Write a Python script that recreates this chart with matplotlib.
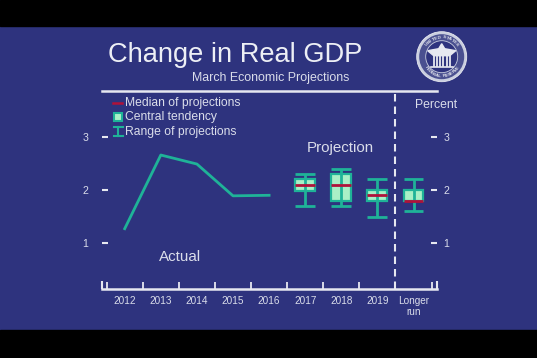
import numpy as np
import matplotlib
matplotlib.use("Agg")
import matplotlib.pyplot as plt
from matplotlib.patches import Rectangle, Circle

plt.rcParams['font.family'] = ['Liberation Sans', 'DejaVu Sans']

# Actual data
actual_x = [0, 1, 2, 3, 4]
actual_y = [1.27, 2.66, 2.49, 1.89, 1.90]

# Projections
proj_x = [5, 6, 7, 8]
range_low = [1.70, 1.70, 1.50, 1.60]
range_high = [2.30, 2.40, 2.20, 2.20]
central_low = [1.99, 1.80, 1.80, 1.80]
central_high = [2.20, 2.30, 2.00, 2.00]
medians = [2.10, 2.10, 1.90, 1.80]

categories = ['2012', '2013', '2014', '2015', '2016', '2017', '2018', '2019', 'Longer\nrun']
y_ticks = [1, 2, 3]

BLUE = '#2E337E'
TEAL = '#1FB398'
LIGHT = '#A9F0C6'
RED = '#B0123A'
WHITE = '#E6E8F0'
TEXT = '#DADDEA'

W, H = 537, 358
fig = plt.figure(figsize=(W / 100, H / 100), dpi=100, facecolor=BLUE)

# overlay in pixel coordinates for the slide furniture
bg = fig.add_axes([0, 0, 1, 1], zorder=0)
bg.set_xlim(0, W)
bg.set_ylim(H, 0)
bg.axis('off')
bg.add_patch(Rectangle((0, 0), W, 26, color='black'))
bg.add_patch(Rectangle((0, 330), W, 28, color='black'))

bg.text(108, 62, 'Change in Real GDP', fontsize=19.6, color='#EDEFF5', va='baseline')
bg.text(192, 81, 'March Economic Projections', fontsize=8.9, color=TEXT, va='baseline')
bg.text(415, 108, 'Percent', fontsize=8.8, color=TEXT, va='baseline')

# legend
bg.plot([113, 122], [102.7, 102.7], color=RED, lw=1.8)
bg.add_patch(Rectangle((114, 113), 8, 8, fc=LIGHT, ec=TEAL, lw=1.5))
bg.plot([118, 118], [127, 136], color=TEAL, lw=1.5)
bg.plot([113.5, 122.5], [127, 127], color=TEAL, lw=1.5)
bg.plot([113.5, 122.5], [136, 136], color=TEAL, lw=1.5)
for y, label in zip([102.7, 117, 131.5], ['Median of projections', 'Central tendency', 'Range of projections']):
    bg.text(125, y, label, fontsize=8.7, color=TEXT, va='center')

# seal
cx, cy = 441.7, 56.7
bg.add_patch(Circle((cx, cy), 25, fc='#C9CEDF', ec='#E6E8F0', lw=0.6))
bg.add_patch(Circle((cx, cy), 22.5, fc='#4A5090', ec='none'))
bg.add_patch(Circle((cx, cy), 16, fc='#2E337E', ec='#C9CEDF', lw=0.6))
for i, ch in enumerate('UNITED STATES'):
    a = np.radians(140 - i * 100 / 12)
    bg.text(cx + 19.3 * np.cos(a), cy - 19.3 * np.sin(a), ch, fontsize=3.2, color='#E6E8F0',
            rotation=np.degrees(a) - 90, ha='center', va='center', fontweight='bold')
for i, ch in enumerate('FEDERAL RESERVE'):
    a = np.radians(215 + i * 110 / 14)
    bg.text(cx + 19.3 * np.cos(a), cy - 19.3 * np.sin(a), ch, fontsize=3.2, color='#E6E8F0',
            rotation=np.degrees(a) + 90, ha='center', va='center', fontweight='bold')
bg.fill([cx - 14, cx - 3, cx, cx + 3, cx + 14, cx + 8, cx - 8], [cy - 6, cy - 8, cy - 13, cy - 8, cy - 6, cy - 1, cy - 1],
        color='#E6E8F0')
for dx in np.arange(-8, 9, 3.2):
    bg.plot([cx + dx, cx + dx], [cy - 1, cy + 9], color='#E6E8F0', lw=1.3)
bg.plot([cx - 11, cx + 11], [cy + 10, cy + 10], color='#E6E8F0', lw=1.2)

# main chart, axes edges put on the slide's frame
left, right, top, bottom = 102.3, 436.7, 91, 289.3
ax = fig.add_axes([left / W, 1 - bottom / H, (right - left) / W, (bottom - top) / H], zorder=1)
ax.patch.set_alpha(0)
ax.set_xlim((left - 124.7) / 36.1, (right - 124.7) / 36.1)
ax.set_ylim(1 - (bottom - 243) / 53, 3 + (137 - top) / 53)

for s in ['left', 'right']:
    ax.spines[s].set_visible(False)
for s in ['top', 'bottom']:
    ax.spines[s].set_color(WHITE)
    ax.spines[s].set_linewidth(1.8)

ax.plot(actual_x, actual_y, color=TEAL, lw=2.0)

box_w = 0.55
xs = np.array(proj_x)
ax.vlines(proj_x, range_low, range_high, color=TEAL, lw=2.0, zorder=4)
ax.hlines(range_low, xs - box_w / 2, xs + box_w / 2, color=TEAL, lw=2.0, zorder=4)
ax.hlines(range_high, xs - box_w / 2, xs + box_w / 2, color=TEAL, lw=2.0, zorder=4)
ax.bar(proj_x, np.array(central_high) - np.array(central_low), bottom=central_low, width=box_w,
       color=LIGHT, edgecolor=TEAL, linewidth=1.6, zorder=3)
ax.hlines(medians, xs - box_w / 2, xs + box_w / 2, color=RED, lw=2.0, zorder=5)

# divider between 2019 and longer run
ax.axvline(7.5, color=WHITE, lw=1.5, ls=(0, (3.6, 2.4)), zorder=2)

ax.text(5.98, 2.80, 'Projection', fontsize=10.9, color=TEXT, ha='center', va='center')
ax.text(1.53, 0.73, 'Actual', fontsize=10.9, color=TEXT, ha='center', va='center')

ax.set_xticks([-0.5, 0.5, 1.5, 2.5, 3.5, 4.5, 5.5, 6.5, 7.5, 8.52])
ax.set_xticklabels([])
ax.set_xticks(range(len(categories)), minor=True)
ax.set_xticklabels(categories, minor=True, fontsize=7.2, color=TEXT, linespacing=1.15, va='top')
ax.tick_params(axis='x', which='major', direction='in', length=5, width=1.3, color=WHITE)
ax.tick_params(axis='x', which='minor', length=0, pad=4.5)
ax.vlines([ax.get_xlim()[0], ax.get_xlim()[1]], ax.get_ylim()[0], ax.get_ylim()[0] + 8.5 / 53, color=WHITE, lw=1.5,
          clip_on=False)

ax.set_yticks(y_ticks)
ax.set_yticklabels([str(v) for v in y_ticks], fontsize=7.6, color=TEXT)
ax.tick_params(axis='y', direction='in', length=4.3, width=1.5, color=WHITE, pad=10)

# right hand percent scale
ax2 = ax.twinx()
ax2.set_ylim(ax.get_ylim())
ax2.set_yticks(y_ticks)
ax2.set_yticklabels([str(v) for v in y_ticks], fontsize=7.6, color=TEXT)
ax2.tick_params(axis='y', direction='in', length=4.3, width=1.5, color=WHITE, pad=5)
for s in ax2.spines.values():
    s.set_visible(False)

fig.savefig('out.png', dpi=100, facecolor=BLUE)
